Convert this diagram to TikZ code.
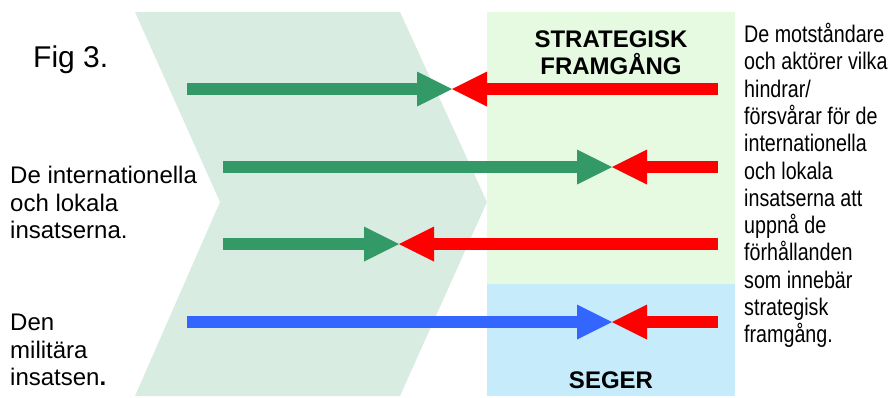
\documentclass[tikz,border=0pt]{standalone}
\usepackage{fontspec}
\setmainfont{Liberation Sans}
\newfontfamily\narrowfont{Liberation Sans}[FakeStretch=0.82]
\usepackage{xcolor}
\usetikzlibrary{arrows.meta}

\definecolor{effortgreen}{RGB}{51,153,102}
\definecolor{opposered}{RGB}{255,0,0}
\definecolor{militaryblue}{RGB}{51,102,255}
\definecolor{chevronfill}{RGB}{216,236,226}
\definecolor{successfill}{RGB}{230,249,225}
\definecolor{victoryfill}{RGB}{198,235,251}

\begin{document}
\begin{tikzpicture}[x=1pt, y=-1pt,
    blockarrow/.style={line width=12pt, -{Triangle[length=35pt, width=35pt, line width=0pt]}},
    effort/.style={blockarrow, color=effortgreen},
    oppose/.style={blockarrow, color=opposered},
    military/.style={blockarrow, color=militaryblue},
    bigtext/.style={font=\fontsize{24}{27.5}\selectfont, inner sep=0pt, align=left},
    sidetext/.style={font=\narrowfont\fontsize{24}{27.3}\selectfont, inner sep=0pt, align=left},
    areatitle/.style={font=\bfseries\fontsize{24}{27}\selectfont, inner sep=0pt, align=center}]
    \useasboundingbox (0,0) rectangle (893,397);

    % Draw background areas
    \fill[chevronfill] (135,12) -- (400,12) -- (487,202) -- (400,396) -- (135,396) -- (220,202) -- cycle;
    \fill[successfill] (487,12) rectangle (735,284);
    \fill[victoryfill] (487,284) rectangle (735,396);

    % Start and meeting points
    \coordinate (g1) at (187,89);  \coordinate (m1) at (452,89);  \coordinate (r1) at (718,89);
    \coordinate (g2) at (223,167); \coordinate (m2) at (612,167); \coordinate (r2) at (718,167);
    \coordinate (g3) at (223,244); \coordinate (m3) at (399,244); \coordinate (r3) at (718,244);
    \coordinate (b4) at (187,322); \coordinate (m4) at (612,322); \coordinate (r4) at (718,322);

    % Draw arrows
    \draw[effort] (g1) -- (m1);
    \draw[oppose] (r1) -- (m1);
    \draw[effort] (g2) -- (m2);
    \draw[oppose] (r2) -- (m2);
    \draw[effort] (g3) -- (m3);
    \draw[oppose] (r3) -- (m3);
    \draw[military] (b4) -- (m4);
    \draw[oppose] (r4) -- (m4);

    % Area titles
    \node[areatitle, anchor=north] (success) at (611,31) {STRATEGISK\\FRAMGÅNG};
    \node[areatitle, anchor=base] (victory) at (611,388) {SEGER};

    % Labels
    \node[anchor=base west, inner sep=0pt, font=\fontsize{30}{36}\selectfont] (fig) at (33,67) {Fig 3.};
    \node[bigtext, anchor=north west] (efforts) at (10,166) {De internationella\\och lokala\\insatserna.};
    \node[bigtext, anchor=north west] (forces) at (10,314) {Den\\militära\\insatsen\textbf{.}};
    \node[sidetext, anchor=north west] (opponents) at (744,23) {De motståndare\\och aktörer vilka\\hindrar/\\försvårar för de\\internationella\\och lokala\\insatserna att\\uppnå de\\förhållanden\\som innebär\\strategisk\\framgång.};
\end{tikzpicture}
\end{document}
